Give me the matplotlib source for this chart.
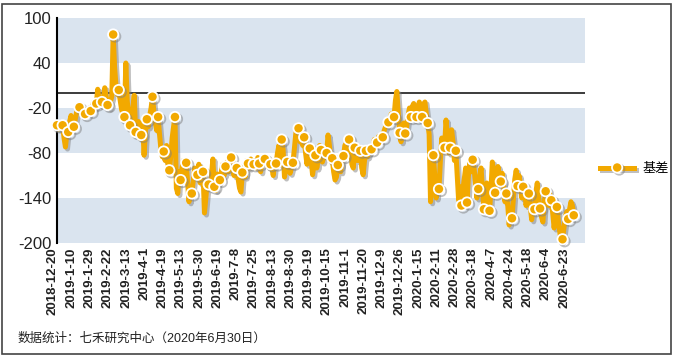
import matplotlib
matplotlib.use('Agg')
import matplotlib.pyplot as plt
import matplotlib.patheffects as pe
from matplotlib.transforms import ScaledTranslation
from matplotlib.patches import Rectangle
import numpy as np

plt.rcParams['font.family'] = ['Liberation Sans', 'Noto Sans CJK SC']

series_name = '基差'
source_note = '数据统计：七禾研究中心（2020年6月30日）'

values = [
    -43, -48, -40, -45,  -43, -60, -72, -55,  -52, -38, -30, -42,  -45, -35, -25, -22,
    -19, -25, -30, -24,  -28, -22, -26, -20,  -24, -18, -12, -20,  -14, 5, -10, -15,
    -12, -8, 7, -5,  -16, -20, -12, -5,  78, 35, 10, -2,  4, -10, -22, -28,
    -32, 40, -10, -30,  -43, -30, -20, -3,  -52, -48, -38, -60,  -56, -40, -83, -50,
    -35, -45, -30, -20,  -5, -25, -40, -50,  -32, -55, -75, -85,  -78, -90, -70, -95,
    -103, -85, -60, -45,  -32, -127, -134, -105,  -116, -100, -90, -110,  -93, -120, -145, -128,
    -134, -118, -100, -112,  -109, -95, -120, -100,  -105, -160, -140, -118,  -122, -128, -110, -88,
    -125, -130, -108, -120,  -116, -105, -95, -110,  -98, -92, -105, -90,  -86, -95, -110, -98,
    -100, -115, -127, -132,  -106, -98, -112, -90,  -94, -100, -88, -96,  -95, -90, -100, -86,
    -94, -105, -90, -85,  -88, -92, -98, -90,  -95, -100, -110, -92,  -94, -80, -70, -95,
    -62, -75, -112, -100,  -92, -98, -107, -100,  -93, -75, -55, -43,  -47, -65, -50, -70,
    -59, -80, -95, -85,  -74, -90, -109, -95,  -83, -100, -90, -70,  -76, -92, -85, -80,
    -80, -56, -70, -90,  -87, -105, -116, -112,  -96, -90, -105, -88,  -84, -70, -67, -80,
    -62, -72, -95, -100,  -73, -85, -90, -80,  -77, -100, -109, -90,  -77, -85, -80, -72,
    -75, -70, -62, -68,  -66, -58, -62, -55,  -59, -50, -45, -42,  -39, -35, -28, -30,
    -32, -10, 2, -25,  -53, -65, -50, -40,  -54, -45, -30, -20,  -32, -18, -14, -25,
    -32, -20, -12, -22,  -32, -15, -12, -28,  -40, -55, -145, -100,  -83, -110, -140, -120,
    -128, -90, -60, -75,  -73, -36, -55, -80,  -73, -49, -65, -90,  -77, -110, -143, -125,
    -150, -130, -115, -100,  -146, -110, -92, -105,  -89, -100, -120, -140,  -128, -110, -100, -130,
    -155, -140, -120, -135,  -157, -130, -92, -105,  -133, -115, -98, -110,  -118, -107, -125, -145,
    -134, -150, -176, -160,  -167, -140, -115, -103,  -124, -110, -120, -140,  -125, -130, -150, -140,
    -134, -150, -169, -155,  -155, -132, -120, -140,  -154, -165, -172, -145,  -131, -140, -150, -135,
    -143, -160, -180, -165,  -152, -170, -185, -198,  -195, -180, -165, -158,  -168, -155, -145, -150,
    -163,
]

tick_labels = [
    '2018-12-20', '2019-1-10', '2019-1-29', '2019-2-22', '2019-3-13', '2019-4-1',
    '2019-4-19', '2019-5-13', '2019-5-30', '2019-6-19', '2019-7-8', '2019-7-25',
    '2019-8-13', '2019-8-30', '2019-9-19', '2019-10-15', '2019-11-1', '2019-11-20',
    '2019-12-9', '2019-12-26', '2020-1-15', '2020-2-11', '2020-2-28', '2020-3-18',
    '2020-4-7', '2020-4-24', '2020-5-18', '2020-6-4', '2020-6-23',
]
tick_step = 13
y_ticks = [100, 40, -20, -80, -140, -200]
bands = [(40, 100), (-80, -20), (-200, -140)]

W, H = 673, 357
fig = plt.figure(figsize=(W / 100, H / 100), dpi=100)
ax = fig.add_axes([57 / W, 1 - 243 / H, 528 / W, 225 / H])

for lo, hi in bands:
    ax.axhspan(lo, hi, color='#DAE4EF', lw=0, zorder=0)
ax.axhline(0, color='#1a1a1a', lw=1.2, zorder=1)

orange = '#F2A900'
x = np.arange(len(values))
line, = ax.plot(
    x, values, color=orange, lw=3.6, solid_joinstyle='round',
    marker='o', markevery=4, ms=7.4, mfc=orange, mec='white', mew=1.3,
    label=series_name, clip_on=False, zorder=3,
    path_effects=[pe.SimpleLineShadow(offset=(1.5, -1.5), shadow_color='#808080', alpha=0.5),
                  pe.Normal()],
)

ax.set_xlim(0, 376)
ax.set_ylim(-200, 100)
ax.set_yticks(y_ticks)
ax.set_yticklabels([str(v) for v in y_ticks], fontsize=12, color='#222222')
ax.set_xticks(np.arange(len(tick_labels)) * tick_step)
ax.set_xticklabels(tick_labels, rotation=90, fontsize=9.5, fontweight='bold', color='#222222')
ax.tick_params(axis='x', length=0, pad=3)
ax.tick_params(axis='y', length=0, pad=4)
for s in ['top', 'right', 'bottom']:
    ax.spines[s].set_visible(False)
ax.spines['left'].set_color('black')
ax.spines['left'].set_linewidth(1.5)

shift = ScaledTranslation(-4 / 100, 0, fig.dpi_scale_trans)
for lab in ax.get_xticklabels():
    lab.set_transform(lab.get_transform() + shift)

fig.text(18 / W, 1 - 339 / H, source_note, fontsize=9, va='center', ha='left', color='#222222')

fig.legend(handles=[line], labels=[series_name], loc='center left',
           bbox_to_anchor=(600 / W, 1 - 169 / H), frameon=False, handlelength=2.6,
           handletextpad=0.6, borderpad=0, borderaxespad=0, fontsize=9.5)

fig.patches.append(Rectangle((1.5 / W, 3.5 / H), 669.5 / W, 350 / H, transform=fig.transFigure,
                             fill=False, ec='#444444', lw=1.2))

fig.savefig('out.png', dpi=100)
